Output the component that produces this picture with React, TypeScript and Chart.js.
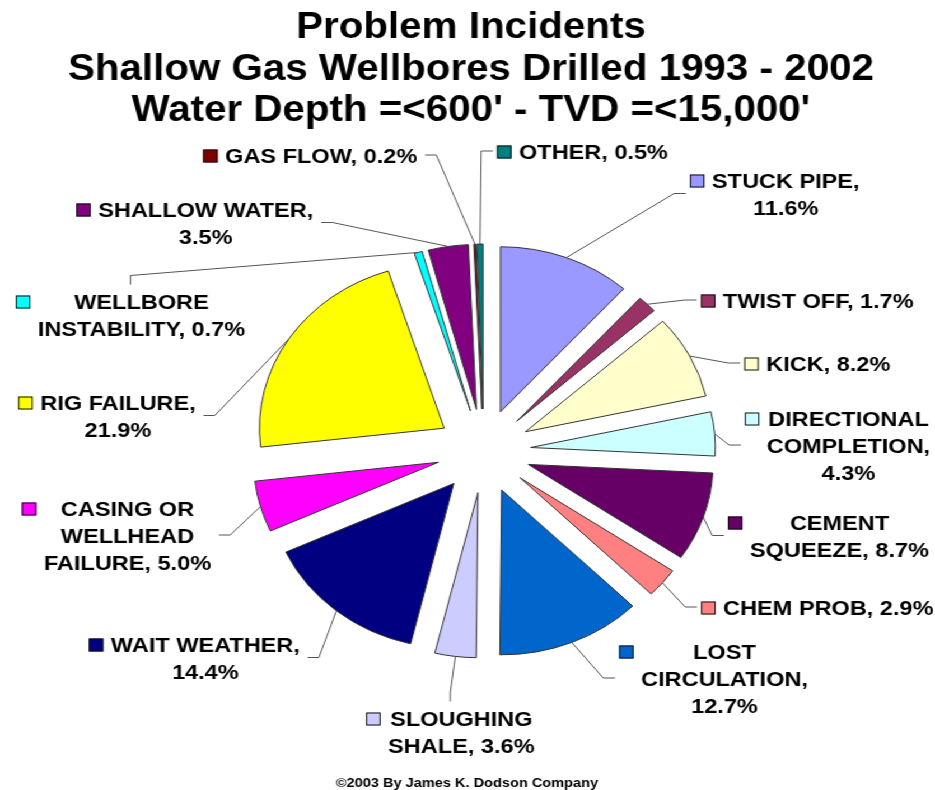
import React, { useEffect, useRef } from 'react';
import { Chart, registerables } from 'chart.js';

Chart.register(...registerables);

// ---- data ----
const categories = [
  'STUCK PIPE',
  'TWIST OFF',
  'KICK',
  'DIRECTIONAL COMPLETION',
  'CEMENT SQUEEZE',
  'CHEM PROB',
  'LOST CIRCULATION',
  'SLOUGHING SHALE',
  'WAIT WEATHER',
  'CASING OR WELLHEAD FAILURE',
  'RIG FAILURE',
  'WELLBORE INSTABILITY',
  'SHALLOW WATER',
  'GAS FLOW',
  'OTHER',
];
const percentages = [11.6, 1.7, 8.2, 4.3, 8.7, 2.9, 12.7, 3.6, 14.4, 5.0, 21.9, 0.7, 3.5, 0.2, 0.5];
const sliceColors = [
  '#9999FF', '#993366', '#FFFFCC', '#CCFFFF', '#660066', '#FF8080', '#0066CC', '#CCCCFF',
  '#000080', '#FF00FF', '#FFFF00', '#00FFFF', '#800080', '#800000', '#008080',
];
const titleLines = [
  'Problem Incidents',
  'Shallow Gas Wellbores Drilled 1993 - 2002',
  "Water Depth =<600' - TVD =<15,000'",
];
const footerText = '\u00A92003 By James K. Dodson Company';

// ---- label layout (words per line, text-block centre x / first baseline in page px, leader side) ----
const wordsPerLine = [[2, 1], [3], [2], [1, 1, 1], [1, 2], [3], [1, 1, 1], [1, 2], [2, 1], [2, 1, 2], [2, 1], [1, 2], [2, 1], [3], [2]];
const labelPos: [number, number, string][] = [
  [785.8, 187.5, 'R'],
  [818.3, 307.5, 'R'],
  [828.3, 370.5, 'R'],
  [848.5, 425.5, 'R'],
  [839.5, 529.5, 'R'],
  [828.3, 614.5, 'R'],
  [724.5, 658.5, 'R'],
  [461.3, 725.5, 'T'],
  [205.4, 651.5, 'L'],
  [127.5, 515.5, 'L'],
  [118.0, 409.5, 'L'],
  [141.5, 308.5, 'T'],
  [205.8, 216.5, 'L'],
  [321.2, 162.5, 'L'],
  [593.5, 158.5, 'R'],
];

// ---- geometry / styling ----
const PAGE_W = 935;
const PAGE_H = 790;
const LW = 835; // logical canvas width, stretched horizontally to the page width
const SX = PAGE_W / LW;
const PIE_CX = 483.7 / SX;
const PIE_CY = 451;
const PIE_R = 165;
const EXPLODE = 42;
const PAD_LEFT = 230;
const PAD_TOP = 212;

const FONT_FAMILY = '"Liberation Sans", Arial, Helvetica, sans-serif';
const TITLE_FONT = `bold 36px ${FONT_FAMILY}`;
const TITLE_X = 471 / SX;
const TITLE_BASE = 38;
const TITLE_LH = 41.5;
const FOOTER_FONT = `bold 13px ${FONT_FAMILY}`;
const FOOTER_X = 467 / SX;
const FOOTER_BASE = 787;
const LABEL_FONT = `bold 21px ${FONT_FAMILY}`;
const LABEL_LH = 27;
const CAP = 15;
const KEY = 13;
const KEY_GAP = 6.7;

const explodePlugin = {
  id: 'explodeSlices',
  beforeDatasetDraw(chart: any, args: any) {
    const ctx = chart.ctx;
    args.meta.data.forEach((arc: any) => {
      const p = arc.getProps(['startAngle', 'endAngle'], true);
      const mid = (p.startAngle + p.endAngle) / 2;
      ctx.save();
      ctx.translate(Math.cos(mid) * EXPLODE, Math.sin(mid) * EXPLODE);
      arc.draw(ctx);
      ctx.restore();
    });
    return false;
  },
};

const textPlugin = {
  id: 'textAndLabels',
  afterDraw(chart: any) {
    const ctx = chart.ctx;
    const meta = chart.getDatasetMeta(0);
    ctx.save();
    ctx.fillStyle = '#000';
    ctx.textAlign = 'center';
    ctx.textBaseline = 'alphabetic';
    ctx.font = TITLE_FONT;
    titleLines.forEach((t, i) => ctx.fillText(t, TITLE_X, TITLE_BASE + i * TITLE_LH));
    ctx.font = FOOTER_FONT;
    ctx.fillText(footerText, FOOTER_X, FOOTER_BASE);

    ctx.font = LABEL_FONT;
    meta.data.forEach((arc: any, i: number) => {
      const p = arc.getProps(['x', 'y', 'startAngle', 'endAngle', 'outerRadius'], true);
      const mid = (p.startAngle + p.endAngle) / 2;
      const ax = p.x + Math.cos(mid) * (p.outerRadius + EXPLODE);
      const ay = p.y + Math.sin(mid) * (p.outerRadius + EXPLODE);

      const words = `${categories[i]}, ${percentages[i].toFixed(1)}%`.split(' ');
      const lines: string[] = [];
      let k = 0;
      wordsPerLine[i].forEach((n) => {
        lines.push(words.slice(k, k + n).join(' '));
        k += n;
      });
      const [cxPage, base, side] = labelPos[i];
      const cx = cxPage / SX;
      const maxW = Math.max(...lines.map((l) => ctx.measureText(l).width));
      const textLeft = cx - maxW / 2;
      const textRight = cx + maxW / 2;
      const keyLeft = textLeft - KEY_GAP - KEY;

      // legend key
      ctx.fillStyle = sliceColors[i];
      ctx.fillRect(keyLeft, base - KEY, KEY, KEY);
      ctx.strokeStyle = '#111';
      ctx.lineWidth = 1;
      ctx.strokeRect(keyLeft + 0.5, base - KEY + 0.5, KEY - 1, KEY - 1);

      // text
      ctx.fillStyle = '#000';
      lines.forEach((l, j) => ctx.fillText(l, cx, base + j * LABEL_LH));

      // leader line
      const midY = base - CAP / 2 + ((lines.length - 1) * LABEL_LH) / 2;
      let sx: number, sy: number, ex: number, ey: number;
      if (side === 'R') {
        sx = keyLeft - 3.6; sy = midY; ex = sx - 10.5; ey = sy;
      } else if (side === 'L') {
        sx = textRight + 7; sy = midY; ex = sx + 10; ey = sy;
      } else {
        sx = (keyLeft + textRight) / 2; sy = base - CAP - 9; ex = sx; ey = sy - 9;
      }
      ctx.strokeStyle = '#555';
      ctx.lineWidth = 1;
      ctx.beginPath();
      ctx.moveTo(sx, sy);
      ctx.lineTo(ex, ey);
      ctx.lineTo(ax, ay);
      ctx.stroke();
    });
    ctx.restore();
  },
};

export default function App() {
  const canvasRef = useRef<HTMLCanvasElement | null>(null);

  useEffect(() => {
    const canvas = canvasRef.current;
    if (!canvas) return;
    const padRight = LW - (2 * PIE_CX - PAD_LEFT);
    const padBottom = PAGE_H - (2 * PIE_CY - PAD_TOP);
    const chart = new Chart(canvas, {
      type: 'pie',
      data: {
        labels: categories,
        datasets: [
          {
            data: percentages,
            backgroundColor: sliceColors,
            borderColor: '#333',
            borderWidth: 1,
            radius: PIE_R,
          } as any,
        ],
      },
      options: {
        responsive: false,
        animation: false,
        devicePixelRatio: 1,
        events: [],
        layout: { padding: { left: PAD_LEFT, right: padRight, top: PAD_TOP, bottom: padBottom } },
        plugins: {
          legend: { display: false },
          tooltip: { enabled: false },
          title: { display: false },
        },
      } as any,
      plugins: [explodePlugin, textPlugin],
    });
    return () => chart.destroy();
  }, []);

  return (
    <div
      style={{
        position: 'fixed',
        left: 0,
        top: 0,
        width: LW,
        height: PAGE_H,
        background: '#fff',
        transform: `scaleX(${SX})`,
        transformOrigin: '0 0',
      }}
    >
      <canvas ref={canvasRef} width={LW} height={PAGE_H} />
    </div>
  );
}
